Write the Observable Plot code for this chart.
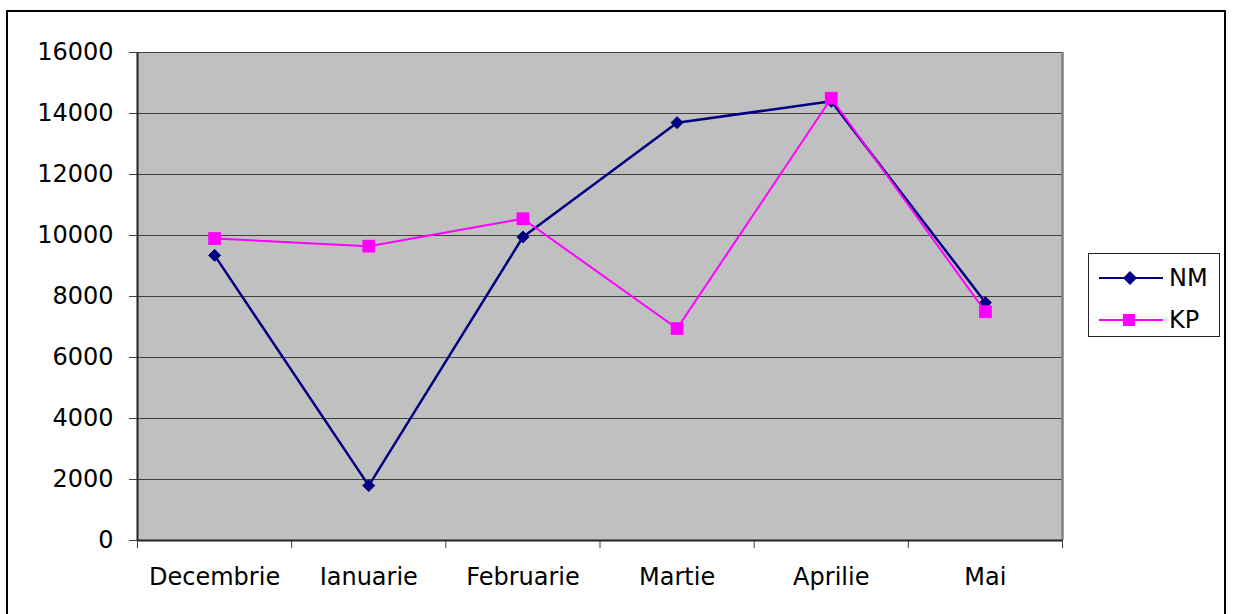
<!DOCTYPE html>
<html>
<head>
<meta charset="utf-8">
<script src="https://cdn.jsdelivr.net/npm/d3@7"></script>
<script src="https://cdn.jsdelivr.net/npm/@observablehq/plot@0.6"></script>
<style>
  html, body { margin: 0; padding: 0; background: #fff; }
  #wrap { position: relative; width: 1233px; height: 614px; overflow: hidden; font-family: "DejaVu Sans", sans-serif; }
  #border { position: absolute; left: 6px; top: 10px; width: 1220px; height: 620px; border: 2px solid #000; box-sizing: border-box; pointer-events: none; }
  #chart { position: absolute; left: 0; top: 0; }
  #legend { position: absolute; left: 1088px; top: 253px; width: 132px; height: 84px; border: 1px solid #222; box-sizing: border-box; background: #fff; }
  #legend .row { position: absolute; left: 0; height: 30px; display: flex; align-items: center; }
  #legend .lab { position: absolute; left: 80px; font-size: 24px; line-height: 24px; color: #000; }
</style>
</head>
<body>
<div id="wrap">
  <div id="chart"></div>
  <div id="border"></div>
  <div id="legend"></div>
</div>
<script>
const months = ["Decembrie", "Ianuarie", "Februarie", "Martie", "Aprilie", "Mai"];
const nmValues = [9350, 1800, 9950, 13700, 14400, 7800];
const kpValues = [9900, 9650, 10550, 6950, 14500, 7500];
const yTicks = [0, 2000, 4000, 6000, 8000, 10000, 12000, 14000, 16000];
const seriesNames = ["NM", "KP"];
const seriesColors = ["#000080", "#FF00FF"];

const nmRows = months.map((m, i) => ({x: i + 0.5, y: nmValues[i], month: m}));
const kpRows = months.map((m, i) => ({x: i + 0.5, y: kpValues[i], month: m}));
const boundaries = d3.range(months.length + 1);
const centers = months.map((m, i) => i + 0.5);

const chart = Plot.plot({
  width: 1233,
  height: 614,
  marginLeft: 137,
  marginRight: 171,
  marginTop: 52,
  marginBottom: 74,
  style: {fontFamily: "DejaVu Sans, sans-serif", fontSize: "24px", color: "#000", background: "transparent", overflow: "visible"},
  x: {domain: [0, months.length], label: null},
  y: {domain: [0, 16000], label: null},
  marks: [
    Plot.frame({fill: "#C0C0C0", stroke: null}),
    Plot.gridY(yTicks, {stroke: "#404040", strokeOpacity: 1, strokeWidth: 1.2}),
    Plot.ruleX([months.length], {stroke: "#808080", strokeWidth: 2.5}),
    Plot.axisY({ticks: yTicks, tickSize: 8, tickPadding: 16, stroke: "#404040", tickFormat: d => String(d), label: null, fill: "#000"}),
    Plot.axisX({ticks: boundaries, tickSize: 8, stroke: "#404040", tickFormat: () => "", label: null}),
    Plot.axisX({ticks: centers, tickSize: 0, tickPadding: 27, tickFormat: d => months[Math.round(d - 0.5)], label: null, fill: "#000"}),
    Plot.ruleX([0], {stroke: "#222", strokeWidth: 2}),
    Plot.ruleY([0], {stroke: "#222", strokeWidth: 2}),
    Plot.line(nmRows, {x: "x", y: "y", stroke: seriesColors[0], strokeWidth: 2.5}),
    Plot.dot(nmRows, {x: "x", y: "y", symbol: "diamond2", r: 5.4, fill: seriesColors[0], stroke: seriesColors[0], strokeWidth: 1}),
    Plot.line(kpRows, {x: "x", y: "y", stroke: seriesColors[1], strokeWidth: 2}),
    Plot.dot(kpRows, {x: "x", y: "y", symbol: "square", r: 7.2, fill: seriesColors[1], stroke: "none"})
  ]
});
document.getElementById("chart").appendChild(chart);

// Legend
const legend = d3.select("#legend");
const rowsY = [24, 66];
seriesNames.forEach((name, i) => {
  const s = legend.append("svg")
    .attr("width", 80).attr("height", 20)
    .style("position", "absolute").style("left", "0px").style("top", (rowsY[i] - 10) + "px");
  s.append("line").attr("x1", 10).attr("x2", 74).attr("y1", 10).attr("y2", 10)
    .attr("stroke", seriesColors[i]).attr("stroke-width", 2);
  if (i === 0) {
    s.append("path").attr("d", "M41,3 L48,10 L41,17 L34,10 Z").attr("fill", seriesColors[i]);
  } else {
    s.append("rect").attr("x", 34).attr("y", 4).attr("width", 12).attr("height", 12).attr("fill", seriesColors[i]);
  }
  legend.append("div").attr("class", "lab").style("top", (rowsY[i] - 12) + "px").text(name);
});
</script>
</body>
</html>
